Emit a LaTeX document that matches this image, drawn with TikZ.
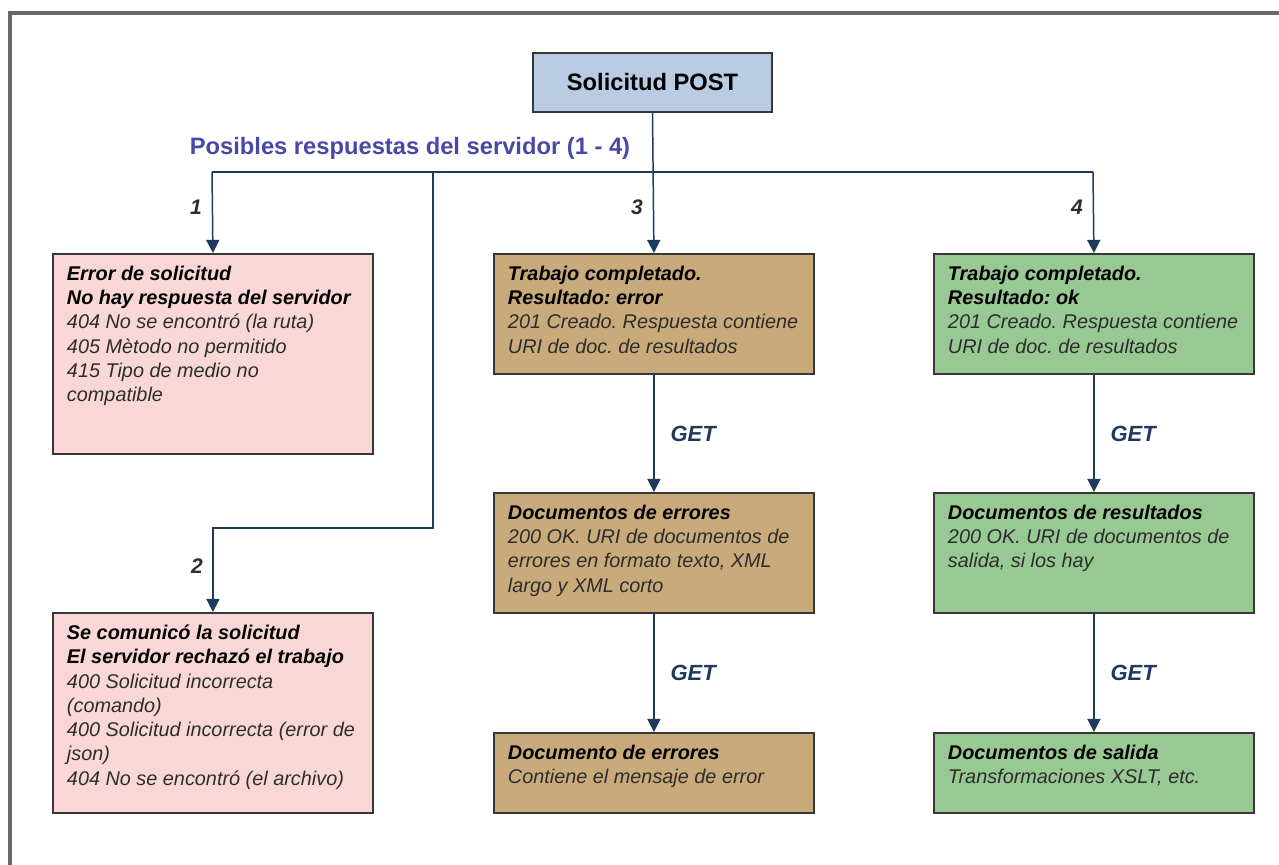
\documentclass[tikz,border=0pt]{standalone}
\usepackage{fontspec}
\setmainfont{Liberation Sans}
\usetikzlibrary{arrows.meta}
\frenchspacing

\definecolor{titlefill}{RGB}{185,204,228}
\definecolor{pinkfill}{RGB}{250,215,215}
\definecolor{tanfill}{RGB}{201,170,122}
\definecolor{greenfill}{RGB}{152,200,148}
\definecolor{navy}{RGB}{31,58,95}
\definecolor{boxline}{RGB}{55,55,55}
\definecolor{bodytext}{RGB}{45,45,45}
\definecolor{captionblue}{RGB}{72,72,170}
\definecolor{framegray}{RGB}{105,105,105}

\newcommand{\panelbody}[3]{\parbox[t][#1][t]{5.84cm}{\raggedright{\bfseries\color{black}#2}\\#3}}

\tikzset{
  frame/.style={draw=framegray, line width=1.8pt},
  titlebox/.style={draw=boxline, line width=1.1pt, fill=titlefill, minimum width=4.78cm, minimum height=1.18cm, font=\fontsize{13.5}{16}\selectfont\bfseries},
  caption/.style={text=captionblue, font=\fontsize{13.5}{16}\selectfont\bfseries},
  panel/.style={draw=boxline, line width=1.1pt, anchor=north west, inner xsep=0.28cm, inner ysep=0.24cm, text=bodytext, font=\fontsize{11.3}{13.8}\selectfont\itshape},
  wire/.style={draw=navy, line width=0.85pt},
  link/.style={wire, -{Triangle[length=7.5pt, width=7.5pt]}},
  numlbl/.style={text=bodytext, font=\fontsize{12}{14}\selectfont\bfseries\itshape},
  getlbl/.style={text=navy, anchor=west, xshift=0.2cm, font=\fontsize{12.5}{15}\selectfont\bfseries\itshape}
}

\begin{document}
\begin{tikzpicture}[x=0.02cm, y=-0.02cm]

\useasboundingbox (0, 0) rectangle (1279, 865);
\draw[frame] (10, 865) -- (10, 13) -- (1279, 13);

\node[titlebox] (post) at (652.5, 82.5) {Solicitud POST};
\node[caption] (resp) at (410, 148) {Posibles respuestas del servidor (1 - 4)};

\node[panel, fill=pinkfill] (req) at (52, 253) {\panelbody{3.52cm}{Error de solicitud\\No hay respuesta del servidor}{404 No se encontró (la ruta)\\405 Mètodo no permitido\\415 Tipo de medio no\\compatible}};
\node[panel, fill=pinkfill] (rej) at (52, 612) {\panelbody{3.52cm}{Se comunicó la solicitud\\El servidor rechazó el trabajo}{400 Solicitud incorrecta\\(comando)\\400 Solicitud incorrecta (error de\\json)\\404 No se encontró (el archivo)}};

\node[panel, fill=tanfill] (fail) at (493, 253) {\panelbody{1.92cm}{Trabajo completado.\\Resultado: error}{201 Creado. Respuesta contiene\\URI de doc. de resultados}};
\node[panel, fill=tanfill] (errdocs) at (493, 492) {\panelbody{1.92cm}{Documentos de errores}{200 OK. URI de documentos de\\errores en formato texto, XML\\largo y XML corto}};
\node[panel, fill=tanfill] (errdoc) at (493, 732) {\panelbody{1.12cm}{Documento de errores}{Contiene el mensaje de error}};

\node[panel, fill=greenfill] (done) at (933, 253) {\panelbody{1.92cm}{Trabajo completado.\\Resultado: ok}{201 Creado. Respuesta contiene\\URI de doc. de resultados}};
\node[panel, fill=greenfill] (resdocs) at (933, 492) {\panelbody{1.92cm}{Documentos de resultados}{200 OK. URI de documentos de\\salida, si los hay}};
\node[panel, fill=greenfill] (outdocs) at (933, 732) {\panelbody{1.12cm}{Documentos de salida}{Transformaciones XSLT, etc.}};

\coordinate (busL) at (212, 172);
\coordinate (busR) at (1093, 172);
\coordinate (tap) at (433, 172);
\coordinate (bend) at (433, 528);

\draw[wire] (busL) -- (busR);
\draw[link] (post.south) -- (fail.north);
\draw[link] (busL) -- (req.north);
\draw[link] (busR) -- (done.north);
\draw[link] (tap) -- (bend) -| (rej.north);

\draw[link] (fail.south) -- node[getlbl] {GET} (errdocs.north);
\draw[link] (errdocs.south) -- node[getlbl] {GET} (errdoc.north);
\draw[link] (done.south) -- node[getlbl] {GET} (resdocs.north);
\draw[link] (resdocs.south) -- node[getlbl] {GET} (outdocs.north);

\node[numlbl] (n1) at (196, 207) {1};
\node[numlbl] (n2) at (197, 566) {2};
\node[numlbl] (n3) at (637, 207) {3};
\node[numlbl] (n4) at (1077, 207) {4};

\end{tikzpicture}
\end{document}
